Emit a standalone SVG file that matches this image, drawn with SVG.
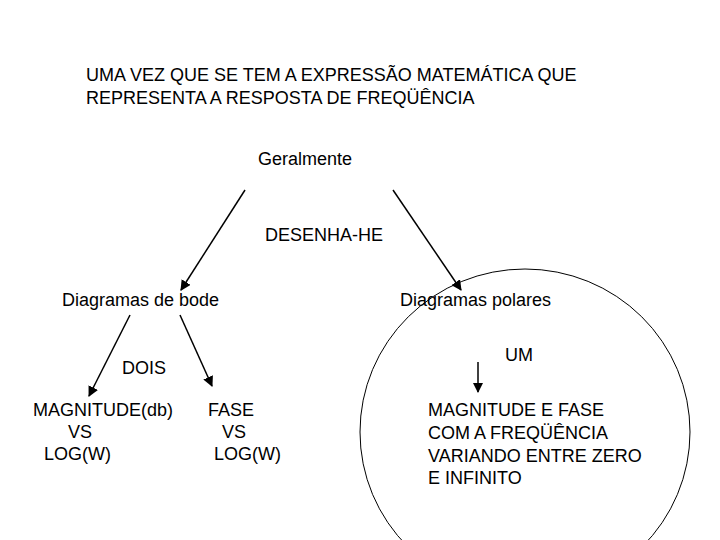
<svg xmlns="http://www.w3.org/2000/svg" width="720" height="540" viewBox="0 0 720 540">
<style>
text{font-family:"Liberation Sans",Arial,sans-serif;font-size:18px;fill:#000}
.c line{stroke:#000;stroke-width:1.5}
</style>
<defs><marker id="a" viewBox="0 0 10 10" refX="9" refY="5" markerWidth="7" markerHeight="7" orient="auto"><path d="M0,0L10,5L0,10z" fill="#000"/></marker></defs>
<rect width="720" height="540" fill="#fff"/>
<g id="title"><text x="86" y="81">UMA VEZ QUE SE TEM A EXPRESSÃO MATEMÁTICA QUE</text><text x="86" y="104">REPRESENTA A RESPOSTA DE FREQÜÊNCIA</text></g>
<g id="geralmente"><text x="258" y="165">Geralmente</text></g>
<g id="desenha"><text x="265" y="241">DESENHA-HE</text></g>
<g id="bode"><text x="62" y="306">Diagramas de bode</text></g>
<g id="polares"><text x="400" y="306">Diagramas polares</text></g>
<g id="dois"><text x="122" y="374">DOIS</text></g>
<g id="um"><text x="505" y="361">UM</text></g>
<g id="mag"><text x="33" y="416">MAGNITUDE(db)</text><text x="68" y="438">VS</text><text x="44" y="460">LOG(W)</text></g>
<g id="fase"><text x="208" y="416">FASE</text><text x="222" y="438">VS</text><text x="214" y="460">LOG(W)</text></g>
<g id="polar"><ellipse cx="525" cy="432" rx="165" ry="163" fill="none" stroke="#000" stroke-width="1"/>
<text x="428" y="416">MAGNITUDE E FASE</text><text x="428" y="439">COM A FREQÜÊNCIA</text><text x="428" y="462">VARIANDO ENTRE ZERO</text><text x="428" y="484">E INFINITO</text></g>
<g class="c" id="connectors">
<line x1="245" y1="190" x2="181" y2="290" marker-end="url(#a)"/>
<line x1="393" y1="190" x2="461" y2="290" marker-end="url(#a)"/>
<line x1="130" y1="315" x2="89" y2="396" marker-end="url(#a)"/>
<line x1="180" y1="315" x2="212" y2="386" marker-end="url(#a)"/>
<line x1="478" y1="362" x2="478" y2="392" marker-end="url(#a)"/>
</g>
</svg>
